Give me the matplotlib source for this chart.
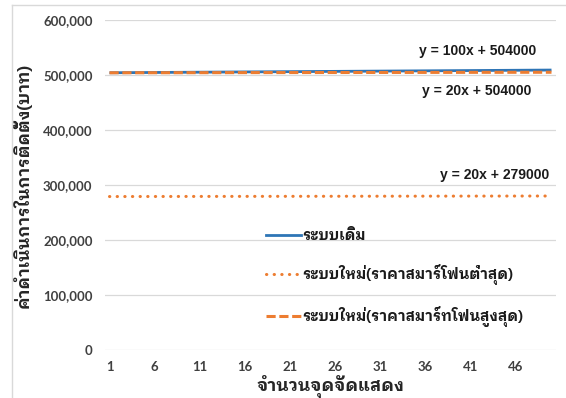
import matplotlib
matplotlib.use('Agg')
import matplotlib.pyplot as plt
from matplotlib.lines import Line2D

# Installation cost per number of exhibit points
points = list(range(1, 51))
cost_old = [504100, 504200, 504300, 504400, 504500, 504600, 504700, 504800, 504900, 505000,
            505100, 505200, 505300, 505400, 505500, 505600, 505700, 505800, 505900, 506000,
            506100, 506200, 506300, 506400, 506500, 506600, 506700, 506800, 506900, 507000,
            507100, 507200, 507300, 507400, 507500, 507600, 507700, 507800, 507900, 508000,
            508100, 508200, 508300, 508400, 508500, 508600, 508700, 508800, 508900, 509000]
cost_new_low = [279020, 279040, 279060, 279080, 279100, 279120, 279140, 279160, 279180, 279200,
                279220, 279240, 279260, 279280, 279300, 279320, 279340, 279360, 279380, 279400,
                279420, 279440, 279460, 279480, 279500, 279520, 279540, 279560, 279580, 279600,
                279620, 279640, 279660, 279680, 279700, 279720, 279740, 279760, 279780, 279800,
                279820, 279840, 279860, 279880, 279900, 279920, 279940, 279960, 279980, 280000]
cost_new_high = [504020, 504040, 504060, 504080, 504100, 504120, 504140, 504160, 504180, 504200,
                 504220, 504240, 504260, 504280, 504300, 504320, 504340, 504360, 504380, 504400,
                 504420, 504440, 504460, 504480, 504500, 504520, 504540, 504560, 504580, 504600,
                 504620, 504640, 504660, 504680, 504700, 504720, 504740, 504760, 504780, 504800,
                 504820, 504840, 504860, 504880, 504900, 504920, 504940, 504960, 504980, 505000]

labels = ['ระบบเดิม', 'ระบบใหม่(ราคาสมาร์โฟนต่ำสุด)', 'ระบบใหม่(ราคาสมาร์ทโฟนสูงสุด)']
trend_text = ['y = 100x + 504000', 'y = 20x + 504000', 'y = 20x + 279000']
x_ticks = [1, 6, 11, 16, 21, 26, 31, 36, 41, 46]
y_ticks = [0, 100000, 200000, 300000, 400000, 500000, 600000]

BLUE = '#2E75B6'
ORANGE = '#ED7D31'
THAI = ['IBM Plex Sans Thai Looped', 'Liberation Sans', 'DejaVu Sans']
TICKC = '#404040'

fig = plt.figure(figsize=(5.66, 3.98), dpi=100)
ax = fig.add_axes([105 / 566, 1 - 350 / 398, 451 / 566, 330 / 398])

# chart border (left and top edges only are inside the canvas)
fig.add_artist(Line2D([12 / 566, 12 / 566], [0, 1 - 5 / 398], transform=fig.transFigure,
                      color='#d9d9d9', lw=1))
fig.add_artist(Line2D([12 / 566, 1], [1 - 5 / 398, 1 - 5 / 398], transform=fig.transFigure,
                      color='#d9d9d9', lw=1))

ax.plot(points, cost_old, color=BLUE, lw=2.0, solid_capstyle='butt', zorder=3)
ax.plot(points, cost_new_low, color=ORANGE, lw=2.2, linestyle=(0, (0.1, 2.4)),
        dash_capstyle='round', zorder=3)
ax.plot(points, cost_new_high, color=ORANGE, lw=2.2, linestyle=(0, (3.0, 1.2)),
        dash_capstyle='butt', zorder=4)

ax.set_xlim(0.5, 50.5)
ax.set_ylim(0, 600000)
ax.set_xticks(x_ticks)
ax.set_yticks(y_ticks)
ax.set_yticklabels(['{:,}'.format(v) for v in y_ticks])
ax.grid(axis='y', color='#d9d9d9', lw=0.9)
ax.set_axisbelow(True)
for s in ax.spines.values():
    s.set_visible(False)
ax.tick_params(length=0, colors=TICKC, labelsize=9.5)
ax.tick_params(axis='y', pad=9)
ax.tick_params(axis='x', pad=8)
for t in ax.get_xticklabels() + ax.get_yticklabels():
    t.set_fontweight('bold')
    t.set_family(['Lato', 'DejaVu Sans'])

ax.xaxis.set_label_coords(0.515, -0.075)
ax.set_xlabel('จำนวนจุดจัดแสดง', family=THAI, fontsize=12.5, fontweight='bold',
              color='#262626')
ax.set_ylabel('ค่าดำเนินการในการติดตั้ง(บาท)', family=THAI, fontsize=12.2,
              fontweight='bold', color='#262626', labelpad=8)

# trendline equations
eq_pos = [(41.85, 543600), (41.7, 470900), (43.7, 318200)]
for txt, (xp, yp) in zip(trend_text, eq_pos):
    ax.text(xp, yp, txt, ha='center', va='center', fontsize=10, fontweight='bold',
            family=['Liberation Sans'], color='#1a1a1a')

handles = [Line2D([], [], color=BLUE, lw=2.0),
           Line2D([], [], color=ORANGE, lw=2.2, linestyle=(0, (0.1, 2.4)), dash_capstyle='round'),
           Line2D([], [], color=ORANGE, lw=2.2, linestyle=(0, (3.0, 1.2)))]
leg = ax.legend(handles, labels, loc='upper left',
                bbox_to_anchor=(266 / 566, 1 - 229 / 398), bbox_transform=fig.transFigure,
                frameon=False, prop={'family': THAI, 'size': 10.5, 'weight': 'bold'},
                handlelength=2.4, handletextpad=0.1, labelspacing=1.45, borderpad=0,
                borderaxespad=0)
for t in leg.get_texts():
    t.set_color('#1a1a1a')

fig.savefig('out.png', dpi=100)
